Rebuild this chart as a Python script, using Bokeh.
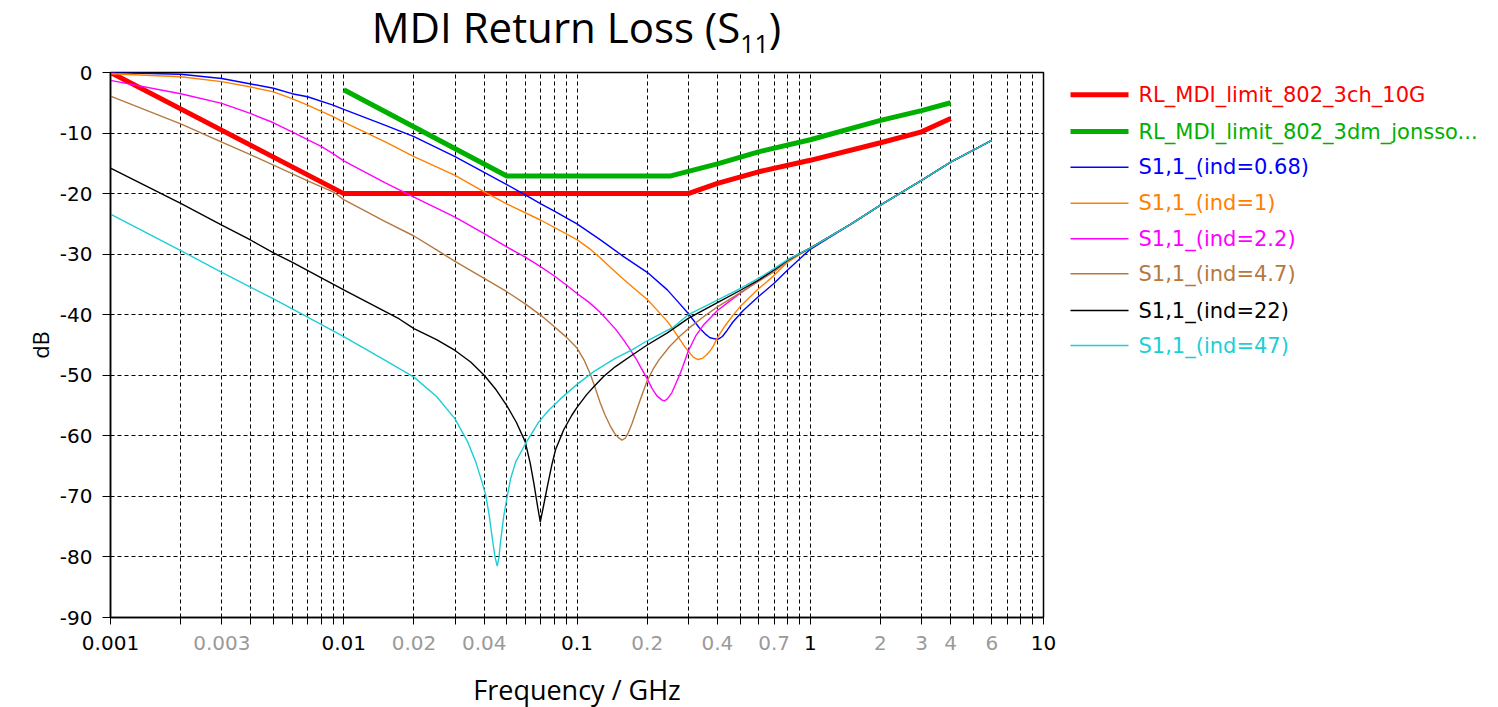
from bokeh.plotting import figure
from bokeh.models import Range1d, FixedTicker, CustomJSTickFormatter, Div
from bokeh.layouts import column, row
from bokeh.embed import file_html
from bokeh.resources import INLINE
from bokeh.core.properties import value

# ---------------- data (frequency in GHz, return loss in dB) ----------------
RL_3CH_F = [0.001, 0.01, 0.3, 0.4, 0.6, 1.0, 2.0, 3.0, 4.0]
RL_3CH_DB = [0.0, -20.0, -20.0, -18.3, -16.4, -14.5, -11.6, -9.8, -7.6]

RL_3DM_F = [0.01, 0.05, 0.25, 0.4, 0.6, 1.0, 2.0, 3.0, 4.0]
RL_3DM_DB = [-2.85, -17.1, -17.1, -15.1, -13.1, -11.1, -7.9, -6.3, -5.0]

# common high-frequency branch shared by all S11 traces
TAIL_F = [1.5, 2.0, 3.0, 4.0, 6.0]
TAIL_DB = [-25.0, -21.9, -17.8, -14.8, -11.2]

S068_F = [0.001, 0.002, 0.003, 0.004, 0.005, 0.006, 0.007, 0.009, 0.01, 0.015, 0.02,
          0.025, 0.03, 0.04, 0.05, 0.06, 0.07, 0.08, 0.09, 0.1, 0.1256, 0.1585, 0.2,
          0.2439, 0.27, 0.3, 0.32, 0.335, 0.355, 0.372, 0.39, 0.405, 0.42, 0.44,
          0.466, 0.516, 0.6, 0.7, 0.8, 0.9, 1.0]
S068_DB = [0.0, -0.3, -1.0, -1.9, -2.6, -3.5, -4.0, -5.4, -6.1, -8.7, -10.6,
           -12.4, -13.9, -16.5, -18.5, -20.2, -21.7, -22.9, -24.0, -25.0, -27.6, -30.4, -33.0,
           -35.9, -37.8, -39.8, -41.2, -42.2, -43.2, -43.8, -44.0, -44.0, -43.6, -42.6,
           -41.2, -39.3, -37.0, -34.8, -32.6, -30.8, -29.2]

S1_F = [0.001, 0.002, 0.003, 0.004, 0.005, 0.006, 0.007, 0.009, 0.01, 0.015, 0.02,
        0.03, 0.04, 0.05, 0.07, 0.1, 0.115, 0.1256, 0.14, 0.1534, 0.175, 0.2, 0.22,
        0.2439, 0.26, 0.2773, 0.29, 0.3, 0.315, 0.33, 0.345, 0.36, 0.375, 0.385, 0.4,
        0.43, 0.466, 0.5, 0.55, 0.6, 0.65, 0.7, 0.8, 0.9, 1.0]
S1_DB = [-0.2, -0.7, -1.5, -2.4, -3.2, -4.3, -5.4, -7.3, -8.2, -11.4, -13.9,
         -17.0, -19.7, -21.7, -24.4, -27.6, -29.3, -30.6, -32.3, -33.7, -35.6, -37.5, -39.2,
         -41.1, -42.6, -44.2, -45.3, -46.0, -47.0, -47.4, -47.2, -46.6, -45.8, -45.1, -43.8,
         -41.9, -40.1, -38.7, -37.1, -35.7, -34.6, -33.5, -31.3, -30.1, -29.0]

S22_F = [0.001, 0.002, 0.003, 0.004, 0.005, 0.006, 0.007, 0.008, 0.009, 0.01, 0.015,
         0.02, 0.03, 0.04, 0.05, 0.06, 0.07, 0.08, 0.09, 0.1, 0.113, 0.1256, 0.1457,
         0.16, 0.1694, 0.18, 0.1872, 0.2, 0.21, 0.22, 0.2317, 0.238, 0.244, 0.255,
         0.2652, 0.275, 0.284, 0.3, 0.324, 0.35, 0.4, 0.45, 0.5, 0.6, 0.7, 0.8, 0.9, 1.0]
S22_DB = [-1.3, -3.5, -5.1, -6.8, -8.3, -9.8, -11.1, -12.2, -13.4, -14.6, -18.2,
          -20.6, -23.9, -26.6, -28.8, -30.5, -32.1, -33.6, -35.1, -36.5, -38.0, -39.6, -42.3,
          -44.4, -45.8, -47.4, -48.6, -50.6, -52.2, -53.4, -54.1, -54.2, -53.9, -52.9,
          -51.4, -50.0, -48.6, -46.0, -43.4, -41.6, -39.3, -37.8, -36.5, -34.3, -32.6,
          -31.0, -29.9, -29.0]

S47_F = [0.001, 0.002, 0.003, 0.004, 0.005, 0.006, 0.007, 0.009, 0.01, 0.015, 0.02,
         0.025, 0.03, 0.04, 0.05, 0.06, 0.07, 0.08, 0.09, 0.1, 0.107, 0.114, 0.12,
         0.1256, 0.132, 0.1386, 0.145, 0.1504, 0.156, 0.161, 0.1659, 0.172, 0.18, 0.19,
         0.2, 0.212, 0.2242, 0.25, 0.275, 0.3, 0.35, 0.4, 0.5, 0.6, 0.7, 0.8, 0.9, 1.0]
S47_DB = [-3.9, -8.5, -11.5, -13.6, -15.3, -16.7, -17.9, -19.7, -21.0, -24.6, -27.0,
          -29.3, -31.2, -34.0, -36.2, -38.2, -40.1, -42.0, -43.7, -45.5, -47.4, -49.8, -52.2,
          -54.5, -56.6, -58.3, -59.6, -60.3, -60.7, -60.4, -59.5, -58.0, -55.8, -53.2,
          -50.9, -49.0, -47.5, -45.2, -43.6, -42.3, -40.3, -38.7, -36.4, -34.5, -32.9,
          -31.2, -30.0, -29.0]

S220_F = [0.001, 0.002, 0.003, 0.004, 0.005, 0.006, 0.01, 0.0173, 0.02, 0.025, 0.03,
          0.035, 0.04, 0.045, 0.05, 0.055, 0.06, 0.063, 0.0653, 0.068, 0.0696, 0.0715,
          0.0745, 0.078, 0.0809, 0.0877, 0.095, 0.1, 0.11, 0.118, 0.13, 0.1457, 0.172,
          0.2, 0.244, 0.3, 0.35, 0.4, 0.5, 0.6, 0.7, 0.8, 0.9, 1.0]
S220_DB = [-15.8, -21.6, -25.2, -27.7, -29.8, -31.3, -35.9, -40.7, -42.3, -44.1, -45.9,
           -47.8, -50.0, -52.4, -55.0, -57.8, -61.0, -64.5, -67.8, -72.0, -74.2, -72.0,
           -68.5, -64.8, -62.3, -59.0, -56.6, -55.3, -53.2, -51.9, -50.2, -48.6, -46.7,
           -45.0, -43.0, -40.6, -39.2, -38.0, -36.0, -34.3, -32.6, -31.0, -29.9, -29.0]

S470_F = [0.001, 0.002, 0.003, 0.005, 0.007, 0.01, 0.015, 0.02, 0.025, 0.03, 0.034,
          0.0368, 0.039, 0.0406, 0.042, 0.0433, 0.0445, 0.0455, 0.0463, 0.047, 0.0485,
          0.0502, 0.052, 0.0546, 0.0601, 0.0686, 0.076, 0.0849, 0.1, 0.118, 0.1457,
          0.172, 0.2, 0.26, 0.3, 0.4, 0.5, 0.6, 0.7, 0.8, 0.9, 1.0]
S470_DB = [-23.4, -29.4, -33.0, -37.4, -40.4, -43.6, -47.5, -50.3, -53.5, -57.2, -61.0,
           -64.3, -67.4, -69.8, -73.0, -76.8, -80.0, -81.5, -80.0, -77.5, -73.3,
           -70.0, -67.0, -64.3, -61.3, -57.7, -55.7, -53.9, -51.5, -49.4, -47.2,
           -45.8, -44.3, -42.0, -40.0, -37.6, -35.7, -34.0, -32.4, -30.9, -29.9, -29.0]

NAMES = ["RL_MDI_limit_802_3ch_10G", "RL_MDI_limit_802_3dm_jonsso...",
         "S1,1_(ind=0.68)", "S1,1_(ind=1)", "S1,1_(ind=2.2)", "S1,1_(ind=4.7)",
         "S1,1_(ind=22)", "S1,1_(ind=47)"]
COLORS = ["#ff0000", "#00b000", "#0000ff", "#ff8000", "#ff00ff", "#b5793f",
          "#000000", "#1ccfd6"]
WIDTHS = [5, 5, 1.4, 1.4, 1.4, 1.4, 1.4, 1.4]

X_MAJOR = [0.001, 0.01, 0.1, 1, 10]
X_MAJOR_LABELS = ["0.001", "0.01", "0.1", "1", "10"]
X_MINOR = [k * d for d in [0.001, 0.01, 0.1, 1] for k in range(2, 10)]
X_GREY_VALUES = [0.003, 0.02, 0.04, 0.2, 0.4, 0.7, 2, 3, 4, 6]
X_GREY_LABELS = ["0.003", "0.02", "0.04", "0.2", "0.4", "0.7", "2", "3", "4", "6"]
Y_TICKS = [-90, -80, -70, -60, -50, -40, -30, -20, -10, 0]

SERIES = [
    (RL_3CH_F, RL_3CH_DB),
    (RL_3DM_F, RL_3DM_DB),
    (S068_F + TAIL_F, S068_DB + TAIL_DB),
    (S1_F + TAIL_F, S1_DB + TAIL_DB),
    (S22_F + TAIL_F, S22_DB + TAIL_DB),
    (S47_F + TAIL_F, S47_DB + TAIL_DB),
    (S220_F + TAIL_F, S220_DB + TAIL_DB),
    (S470_F + TAIL_F, S470_DB + TAIL_DB),
]

# ---------------- layout constants ----------------
W_TOTAL, H_TOTAL = 1498, 707
TITLE_H = 58
LEFT, RIGHT, TOP, BOTTOM = 110, 20, 14, 13
FRAME_W, FRAME_H = 933, 545
MAIN_W = LEFT + FRAME_W + RIGHT
MAIN_H = TOP + FRAME_H + BOTTOM
XLAB_H = H_TOTAL - TITLE_H - MAIN_H
LEG_W = W_TOTAL - MAIN_W
X_LO, X_HI = 0.001, 10.0
DECADES = 4

TICK_FONT = "DejaVu Sans"

p = figure(width=MAIN_W, height=MAIN_H, x_axis_type="log",
           x_range=Range1d(X_LO, X_HI), y_range=Range1d(-90, 0),
           output_backend="svg", toolbar_location=None,
           min_border_left=LEFT, min_border_right=RIGHT, min_border_top=TOP,
           min_border_bottom=BOTTOM)
p.background_fill_color = "white"
p.border_fill_color = "white"
p.outline_line_color = "black"
p.outline_line_width = 1.5

p.xaxis.ticker = FixedTicker(ticks=X_MAJOR, minor_ticks=X_MINOR)
p.xaxis.formatter = CustomJSTickFormatter(code="return '';")
p.yaxis.ticker = FixedTicker(ticks=Y_TICKS)
p.yaxis.formatter = CustomJSTickFormatter(code="return String(Math.round(tick));")

for ax in (p.xaxis[0], p.yaxis[0]):
    ax.axis_line_color = "black"
    ax.axis_line_width = 1.5
    ax.major_tick_line_color = "black"
    ax.minor_tick_line_color = "black"
    ax.major_label_text_font = TICK_FONT
    ax.major_label_text_color = "black"
    ax.axis_label_text_font = "Open Sans"
    ax.axis_label_text_font_style = "normal"
    ax.axis_label_text_color = "black"

p.xaxis.major_tick_out = 7
p.xaxis.major_tick_in = 0
p.xaxis.minor_tick_out = 7
p.xaxis.minor_tick_in = 0
p.xaxis.major_label_standoff = 0
p.xaxis.major_label_text_font_size = "1px"

p.yaxis.major_tick_out = 8
p.yaxis.major_tick_in = 0
p.yaxis.minor_tick_line_color = None
p.yaxis.major_label_standoff = 10
p.yaxis.major_label_text_font_size = "20px"
p.yaxis.axis_label = "dB"
p.yaxis.axis_label_text_font_size = "22px"
p.yaxis.axis_label_standoff = 2

for g in (p.xgrid[0], p.ygrid[0]):
    g.grid_line_color = "black"
    g.grid_line_dash = "4 3"
    g.grid_line_width = 1
p.xgrid.minor_grid_line_color = "black"
p.xgrid.minor_grid_line_dash = "4 3"
p.xgrid.minor_grid_line_width = 1

for (fx, fy), c, w in zip(SERIES, COLORS, WIDTHS):
    p.line(fx, fy, line_color=c, line_width=w)

# ---------------- legend panel (frame aligned with the plot frame) ----------------
LEG_Y = [94.3, 131, 166.7, 202.7, 238.3, 273.3, 310, 345]
frame_top = TITLE_H + TOP
frame_bot = frame_top + FRAME_H
leg = figure(width=LEG_W, height=MAIN_H, x_range=Range1d(MAIN_W, W_TOTAL),
             y_range=Range1d(frame_bot, frame_top), output_backend="svg",
             toolbar_location=None, x_axis_location=None, y_axis_location=None,
             min_border_left=0, min_border_right=0, min_border_top=TOP,
             min_border_bottom=BOTTOM)
leg.outline_line_color = None
leg.xgrid.visible = False
leg.ygrid.visible = False
leg.background_fill_color = "white"
leg.border_fill_color = "white"
for name, c, w, yy in zip(NAMES, COLORS, WIDTHS, LEG_Y):
    leg.line([1070, 1128], [yy, yy], line_color=c, line_width=w)
    leg.text(x=[1138], y=[yy], text=[name], text_color=c,
             text_font=value(TICK_FONT), text_font_size="21px",
             text_baseline="middle", text_align="left")

# ---------------- x tick labels + axis title strip (same log scale, full width) ----------------
dec_px = FRAME_W / DECADES
xlab_range = Range1d(X_LO / 10 ** (LEFT / dec_px),
                     X_HI * 10 ** ((W_TOTAL - LEFT - FRAME_W) / dec_px))
y0 = TITLE_H + MAIN_H
xfig = figure(width=W_TOTAL, height=XLAB_H, x_axis_type="log", x_range=xlab_range,
              y_range=Range1d(H_TOTAL, y0), output_backend="svg",
              toolbar_location=None, x_axis_location=None, y_axis_location=None,
              min_border=0)
xfig.outline_line_color = None
xfig.xgrid.visible = False
xfig.ygrid.visible = False
xfig.background_fill_color = "white"
xfig.border_fill_color = "white"
LABEL_TOP = frame_bot + 18
xfig.text(x=X_MAJOR, y=[LABEL_TOP] * len(X_MAJOR), text=X_MAJOR_LABELS,
          text_color="black", text_font=value(TICK_FONT), text_font_size="20px",
          text_align="center", text_baseline="top")
xfig.text(x=X_GREY_VALUES, y=[LABEL_TOP] * len(X_GREY_VALUES), text=X_GREY_LABELS,
          text_color="#9a9a9a", text_font=value(TICK_FONT), text_font_size="20px",
          text_align="center", text_baseline="top")
xfig.text(x=[(X_LO * X_HI) ** 0.5], y=[frame_bot + 72], text=["Frequency / GHz"],
          text_color="black", text_font=value("Open Sans"), text_font_size="27px",
          text_align="center", text_baseline="middle")

title_html = ("<div style=\"width:1153px;text-align:center;font-family:'Open Sans';"
              "font-size:42px;line-height:42px;padding-top:6px;color:black;"
              "white-space:nowrap\">MDI Return Loss (S<span style=\"font-size:25px;"
              "position:relative;top:10px\">11</span>)</div>")
title = Div(text=title_html, width=W_TOTAL, height=TITLE_H, margin=(0, 0, 0, 0))

layout = column(title, row(p, leg, spacing=0), xfig, spacing=0)

with open("out.html", "w") as fh:
    fh.write(file_html(layout, INLINE))
